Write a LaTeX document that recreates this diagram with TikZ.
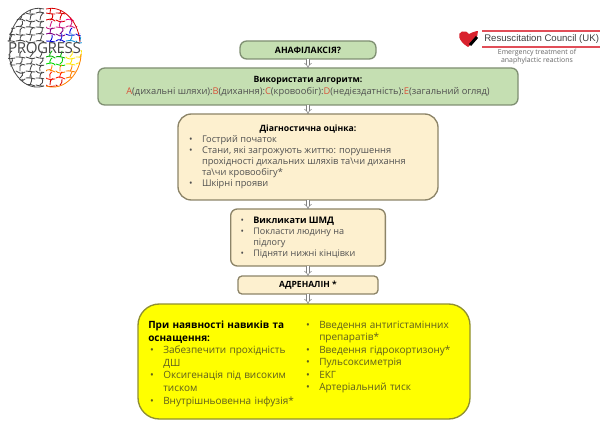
\documentclass[tikz,border=0pt]{standalone}
\definecolor{bgGreen}{HTML}{C5DFB2}
\definecolor{edgeGreen}{HTML}{7F8F72}
\definecolor{bgCream}{HTML}{FDF0CF}
\definecolor{edgeCream}{HTML}{8C8468}
\definecolor{bgYellow}{HTML}{FFFF00}
\definecolor{edgeYellow}{HTML}{8F8F30}
\definecolor{textBody}{HTML}{505050}
\definecolor{textOlive}{HTML}{5E5E1E}
\definecolor{accentRed}{HTML}{D8533A}
\definecolor{brainGray}{HTML}{484848}
\definecolor{councilRed}{HTML}{D9222E}
\usepackage{fontspec}
\setmainfont{Open Sans}
\newfontfamily\councilfont{Liberation Sans}
\usepackage{tikz}
\usetikzlibrary{calc, positioning, arrows.meta, decorations.pathmorphing}
\newcommand{\redL}[1]{{\color{accentRed}#1}}
\newcommand{\bul}{\item[\textbullet]}
\newcommand{\headsize}{\fontsize{6.5}{8}\selectfont}
\newenvironment{bulletlist}[2]{\begin{list}{}{\leftmargin=#1\labelwidth=8pt\labelsep=7pt\rightmargin=#2\itemsep=0pt\parsep=0pt\topsep=0pt\partopsep=0pt}}{\end{list}}
\tikzset{
  flowbox/.style={draw=edgeGreen, line width=1pt, rounded corners=5pt, fill=bgGreen, align=center,
    inner sep=0pt, outer sep=0pt, text=black},
  creambox/.style={flowbox, draw=edgeCream, fill=bgCream},
  yellowbox/.style={flowbox, draw=edgeYellow, fill=bgYellow, rounded corners=16pt},
  stepArrow/.style={draw=gray, double=white, double distance=1.6pt, line width=0.4pt, -{Implies[length=2pt]}},
  brainLine/.style={line width=0.65pt, rounded corners=1.2pt, line cap=round,
    decorate, decoration={random steps, segment length=3pt, amplitude=1.8pt}},
  brainEdge/.style={line width=0.6pt},
}
\begin{document}
\begin{tikzpicture}[x=0.75pt, y=-0.75pt, node distance=6.75pt]
  \useasboundingbox (0,0) rectangle (600,424);
  \pgfmathsetseed{11}

  % flow boxes
  \node[flowbox, minimum width=102pt, minimum height=13.5pt, font=\fontsize{6.6}{8}\selectfont\bfseries] (anaph) at (308,50) {АНАФІЛАКСІЯ?};
  \node[flowbox, below=of anaph, minimum width=315pt, minimum height=27.75pt, font=\fontsize{7}{9}\selectfont] (algo) {%
    {\headsize\textbf{Використати алгоритм:}}\\
    {\color{textBody}\redL{A}(дихальні шляхи):\redL{B}(дихання):\redL{C}(кровообіг):\redL{D}(недієздатність):\redL{E}(загальний огляд)}};
  \node[creambox, below=of algo, rounded corners=10pt, minimum width=195pt, minimum height=64.5pt, font=\fontsize{6.95}{8.3}\selectfont] (diag) {%
    \begin{minipage}{183pt}
      \centering{\headsize\textbf{Діагностична оцінка:}}\\[0pt]
      \raggedright\color{textBody}
      \begin{bulletlist}{12pt}{14pt}
        \bul Гострий початок
        \bul Стани, які загрожують життю: порушення прохідності дихальних шляхів та\textbackslash чи дихання та\textbackslash чи кровообігу*
        \bul Шкірні прояви
      \end{bulletlist}
    \end{minipage}};
  \node[creambox, below=of diag, minimum width=116pt, minimum height=42.75pt, font=\fontsize{6.8}{8.3}\selectfont] (call) {%
    \begin{minipage}{108pt}
      \raggedright\color{textBody}
      \begin{bulletlist}{13pt}{0pt}
        \bul {\color{black}\textbf{Викликати ШМД}}
        \bul Покласти людину на\newline підлогу
        \bul Підняти нижні кінцівки
      \end{bulletlist}
    \end{minipage}};
  \node[creambox, below=7.5pt of call, minimum width=105pt, minimum height=13.5pt, rounded corners=3pt, font=\fontsize{6.4}{8}\selectfont\bfseries] (adren) {АДРЕНАЛІН *};
  \node[yellowbox, anchor=north, minimum width=249pt, minimum height=86.25pt] (care) at (304,304) {};

  % yellow box columns
  \node[anchor=north west, inner sep=0pt, text width=111pt, font=\fontsize{7.5}{9.4}\selectfont] (careleft) at (148,321) {%
    \textbf{При наявності навиків та оснащення:}\\[0pt]
    \color{textOlive}
    \begin{bulletlist}{11.25pt}{0pt}
      \bul Забезпечити прохідність ДШ
      \bul Оксигенація під високим тиском
      \bul Внутрішньовенна інфузія*
    \end{bulletlist}};
  \node[anchor=north west, inner sep=0pt, text width=112pt, font=\fontsize{7.5}{9.4}\selectfont, text=textOlive] (careright) at (304,315.5) {%
    \begin{bulletlist}{11.25pt}{0pt}
      \bul Введення антигістамінних препаратів*
      \bul Введення гідрокортизону*
      \bul Пульсоксиметрія
      \bul ЕКГ
      \bul Артеріальний тиск
    \end{bulletlist}};

  % arrows between the boxes
  \draw[stepArrow] (anaph) -- (algo);
  \draw[stepArrow] (algo) -- (diag);
  \draw[stepArrow] (diag) -- (call);
  \draw[stepArrow] (call) -- (adren);
  \draw[stepArrow] (adren.south) -- (adren.south |- care.north);

  % brain logo, left half
  \begin{scope}
    \clip (44,9) .. controls (30,5) and (8,18) .. (7,48) .. controls (7,72) and (25,92) .. (44,86) -- cycle;
    \foreach \ya in {13,20,...,41,57,64,...,85}
      \foreach \xa in {6,16,26,36} {
        \draw[brainLine, brainGray] (\xa,\ya) -- (\xa+9,\ya+1);
        \draw[brainLine, brainGray] (\xa+4,\ya) -- (\xa+6,\ya-6);
      }
  \end{scope}
  \draw[brainEdge, brainGray] (44,9) .. controls (30,5) and (12,18) .. (9,42);
  \draw[brainEdge, brainGray] (44,86) .. controls (25,92) and (10,72) .. (9,54);

  % brain logo, right half
  \begin{scope}
    \clip (46,9) .. controls (60,5) and (82,18) .. (82,48) .. controls (82,72) and (65,92) .. (46,86) -- cycle;
    \foreach \ya/\colb/\colc in {13/red!85!black/red!85!black, 20/red!85!black/magenta, 27/magenta!85!black/magenta!85!black, 34/violet/blue!85!black, 41/blue!85!black/cyan!75!blue, 57/green!70!black/yellow!90!orange, 64/green!85!black/yellow!90!orange, 71/orange/orange, 78/red!80!orange/orange, 85/red!85!black/red!85!black}
      \foreach \xa in {46,56} {
        \draw[brainLine, \colb] (\xa,\ya) -- (\xa+9,\ya+1);
        \draw[brainLine, \colb] (\xa+4,\ya) -- (\xa+6,\ya-6);
        \draw[brainLine, \colc] (\xa+20,\ya) -- (\xa+29,\ya+1);
        \draw[brainLine, \colc] (\xa+24,\ya) -- (\xa+26,\ya-6);
      }
  \end{scope}
  \draw[brainEdge, red!85!black] (46,9) .. controls (60,5) and (78,18) .. (80,42);
  \draw[brainEdge, orange] (81,54) .. controls (81,72) and (65,92) .. (46,86);

  % logo word
  \node[inner sep=0pt, text=brainGray, font=\fontsize{11.4}{11}\selectfont\addfontfeature{LetterSpace=-3}] (progress) at (44.5,48) {PROGRESS};

  % council logo
  \fill[councilRed] (468,47) .. controls (458,41) and (457,33) .. (462,31.5) .. controls (465,30.5) and (468,32) .. (469,34) .. controls (471,33) and (475,31) .. (478,31) .. controls (478,38) and (474,42) .. (468,47) -- cycle;
  \draw[black, line width=2.2pt] (470,45) -- (477,37);
  \coordinate (ruleA) at (482,31);
  \coordinate (ruleB) at (600,31);
  \coordinate (ruleC) at (482,47);
  \coordinate (ruleD) at (600,47);
  \draw[councilRed!80!white, line width=0.9pt] (ruleA) -- (ruleB);
  \draw[councilRed!80!white, line width=0.9pt] (ruleC) -- (ruleD);
  \node[anchor=west, inner sep=0pt, text=black!75, font=\councilfont\fontsize{7.2}{9}\selectfont] (council) at (484,39) {Resuscitation Council (UK)};
  \node[inner sep=0pt, align=center, text=black!60, font=\fontsize{5.2}{6}\selectfont] (emerg) at (537,56.5) {Emergency treatment of\\anaphylactic reactions};
\end{tikzpicture}
\end{document}
